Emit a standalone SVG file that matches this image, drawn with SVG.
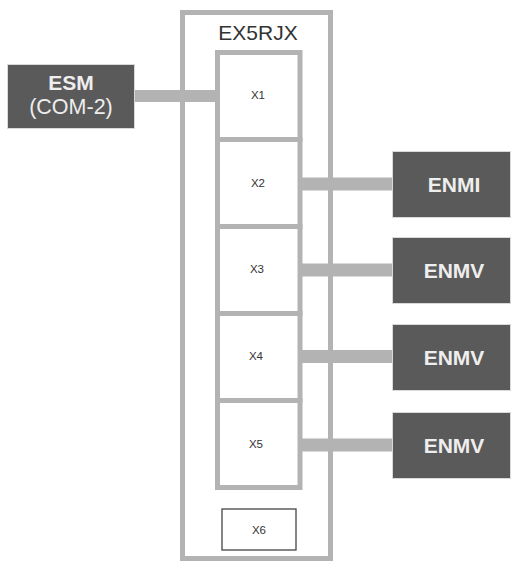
<svg xmlns="http://www.w3.org/2000/svg" width="513" height="561" viewBox="0 0 513 561">
<style>
.frame{fill:none;stroke:#b3b3b3;stroke-width:5}
.cell{fill:#fff;stroke:#b3b3b3;stroke-width:5}
.dev{fill:#5a5a5a;stroke:#d9d9d9;stroke-width:1}
.dt{font-family:"Liberation Sans",Arial,sans-serif;fill:#eeeeee;text-anchor:middle}
.lbl{font-family:"Liberation Sans",Arial,sans-serif;fill:#333;font-size:11.5px;text-anchor:middle}
.conn{stroke:#b3b3b3;fill:none}
</style>
<rect width="513" height="561" fill="#fff"/>
<g id="connectors">
<line class="conn" x1="135" y1="96" x2="218" y2="96" stroke-width="12"/>
<line class="conn" x1="300" y1="184" x2="392" y2="184" stroke-width="13"/>
<line class="conn" x1="300" y1="270" x2="392" y2="270" stroke-width="13"/>
<line class="conn" x1="300" y1="356.5" x2="392" y2="356.5" stroke-width="13"/>
<line class="conn" x1="300" y1="445" x2="392" y2="445" stroke-width="13"/>
</g>
<g id="EX5RJX">
<rect class="frame" x="182.5" y="12.5" width="148" height="546"/>
<text x="258" y="40" font-family="Liberation Sans,Arial,sans-serif" font-size="21" fill="#333" text-anchor="middle">EX5RJX</text>
</g>
<g id="X1"><rect class="cell" x="217.5" y="52.5" width="82.5" height="87"/><text class="lbl" x="258" y="99">X1</text></g>
<g id="X2"><rect class="cell" x="217.5" y="139.5" width="82.5" height="87"/><text class="lbl" x="258" y="187">X2</text></g>
<g id="X3"><rect class="cell" x="217.5" y="226.5" width="82.5" height="87"/><text class="lbl" x="257" y="273">X3</text></g>
<g id="X4"><rect class="cell" x="217.5" y="313.5" width="82.5" height="87"/><text class="lbl" x="256" y="360">X4</text></g>
<g id="X5"><rect class="cell" x="217.5" y="400.5" width="82.5" height="87"/><text class="lbl" x="256" y="448">X5</text></g>
<g id="X6"><rect x="222" y="509" width="74" height="41" fill="#fff" stroke="#444" stroke-width="1.3"/><text class="lbl" x="259" y="534">X6</text></g>
<g id="ESM">
<rect class="dev" x="7.5" y="64.5" width="127" height="64"/>
<text class="dt" x="71" y="90" font-size="21" font-weight="bold">ESM</text>
<text class="dt" x="71" y="114" font-size="21.5">(COM-2)</text>
</g>
<g id="ENMI"><rect class="dev" x="392.5" y="151.5" width="118" height="66"/><text class="dt" x="454" y="192" font-size="21" font-weight="bold">ENMI</text></g>
<g id="ENMV1"><rect class="dev" x="392.5" y="237.5" width="118" height="66"/><text class="dt" x="454" y="278" font-size="21" font-weight="bold">ENMV</text></g>
<g id="ENMV2"><rect class="dev" x="392.5" y="324.5" width="118" height="66"/><text class="dt" x="454" y="365" font-size="21" font-weight="bold">ENMV</text></g>
<g id="ENMV3"><rect class="dev" x="392.5" y="412.5" width="118" height="66"/><text class="dt" x="454" y="453" font-size="21" font-weight="bold">ENMV</text></g>
</svg>
